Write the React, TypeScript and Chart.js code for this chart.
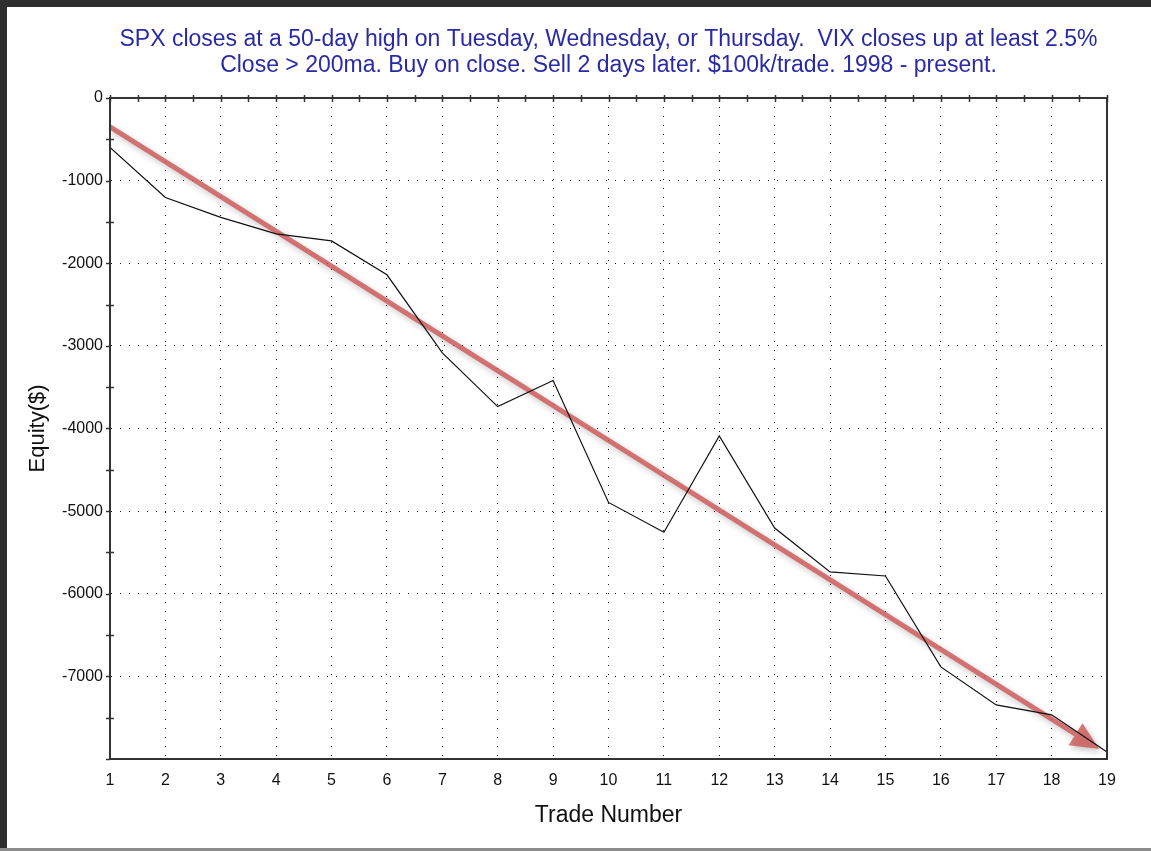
import React, { useEffect, useRef } from 'react';
import { Chart, registerables } from 'chart.js';

Chart.register(...registerables);

const titleLines = [
  'SPX closes at a 50-day high on Tuesday, Wednesday, or Thursday.  VIX closes up at least 2.5%',
  'Close > 200ma. Buy on close. Sell 2 days later. $100k/trade. 1998 - present.',
];
const xAxisTitle = 'Trade Number';
const yAxisTitle = 'Equity($)';

const tradeNumbers = [1, 2, 3, 4, 5, 6, 7, 8, 9, 10, 11, 12, 13, 14, 15, 16, 17, 18, 19];
const equity = [
  -600, -1205, -1445, -1645, -1730, -2140, -3085, -3735, -3420, -4895,
  -5255, -4090, -5205, -5735, -5785, -6885, -7345, -7465, -7915,
];

const yMin = -8000;
const yMax = 0;
const yStep = 1000;
const yMinorStep = 500;
const xMin = 1;
const xMax = 19;
const xMinorStep = 0.5;
const hiddenYLabels = [-8000];

// red trend arrow (data coordinates)
const trendStart = { x: 1, y: -350 };
const trendEnd = { x: 18.86, y: -7880 };

const FONT = "'Liberation Sans', Arial, sans-serif";

const framePlugin = {
  id: 'framePlugin',
  beforeDraw(chart: any) {
    const { ctx, width, height } = chart;
    ctx.save();
    ctx.fillStyle = '#ffffff';
    ctx.fillRect(0, 0, width, height);
    ctx.fillStyle = '#2e2e2e';
    ctx.fillRect(0, 0, width, 7);
    ctx.fillRect(0, 0, 7, height);
    ctx.fillStyle = '#8c8c8c';
    ctx.fillRect(0, height - 3, width, 3);
    ctx.restore();
  },
  beforeDatasetsDraw(chart: any) {
    const { ctx } = chart;
    const xs = chart.scales.x;
    const ys = chart.scales.y;
    const x1 = xs.getPixelForValue(trendStart.x);
    const y1 = ys.getPixelForValue(trendStart.y);
    const x2 = xs.getPixelForValue(trendEnd.x);
    const y2 = ys.getPixelForValue(trendEnd.y);
    const ang = Math.atan2(y2 - y1, x2 - x1);
    const headLen = 28;
    const headHalf = 13;
    const bx = x2 - headLen * Math.cos(ang);
    const by = y2 - headLen * Math.sin(ang);
    ctx.save();
    ctx.shadowColor = 'rgba(0,0,0,0.28)';
    ctx.shadowBlur = 6;
    ctx.shadowOffsetX = 2;
    ctx.shadowOffsetY = 3;
    ctx.strokeStyle = 'rgba(206,88,88,0.82)';
    ctx.fillStyle = 'rgba(206,88,88,0.82)';
    ctx.lineWidth = 5;
    ctx.lineCap = 'butt';
    ctx.beginPath();
    ctx.moveTo(x1, y1);
    ctx.lineTo(bx, by);
    ctx.stroke();
    ctx.beginPath();
    ctx.moveTo(x2, y2);
    ctx.lineTo(bx + headHalf * Math.sin(ang), by - headHalf * Math.cos(ang));
    ctx.lineTo(bx - headHalf * Math.sin(ang), by + headHalf * Math.cos(ang));
    ctx.closePath();
    ctx.fill();
    ctx.restore();
  },
  afterDraw(chart: any) {
    const { ctx, chartArea } = chart;
    const xs = chart.scales.x;
    const ys = chart.scales.y;
    const { left, right, top, bottom } = chartArea;
    ctx.save();
    ctx.strokeStyle = '#333333';
    ctx.lineWidth = 2;
    ctx.strokeRect(left, top, right - left, bottom - top);
    ctx.lineWidth = 1.5;
    // left axis ticks
    for (let v = yMin; v <= yMax; v += yMinorStep) {
      const py = Math.round(ys.getPixelForValue(v)) + 0.5;
      const major = v % yStep === 0;
      ctx.beginPath();
      ctx.moveTo(left - 4, py);
      ctx.lineTo(major ? left : left + 4, py);
      ctx.stroke();
    }
    // top axis ticks
    for (let v = xMin; v <= xMax; v += xMinorStep) {
      const px = Math.round(xs.getPixelForValue(v)) + 0.5;
      ctx.beginPath();
      ctx.moveTo(px, top - 3);
      ctx.lineTo(px, top + 4);
      ctx.stroke();
    }
    ctx.restore();
  },
};

export default function App() {
  const ref = useRef<HTMLCanvasElement | null>(null);

  useEffect(() => {
    document.body.style.margin = '0';
    const canvas = ref.current;
    if (!canvas) return;
    const chart = new Chart(canvas, {
      type: 'line',
      data: {
        labels: tradeNumbers,
        datasets: [
          {
            data: tradeNumbers.map((t, i) => ({ x: t, y: equity[i] })),
            borderColor: '#111111',
            borderWidth: 1.2,
            pointRadius: 0,
            tension: 0,
            fill: false,
          },
        ],
      },
      options: {
        animation: false,
        responsive: false,
        maintainAspectRatio: false,
        layout: { padding: { left: 0, right: 44, top: 0, bottom: 0 } },
        plugins: {
          legend: { display: false },
          tooltip: { enabled: false },
          title: {
            display: true,
            text: titleLines,
            color: '#2a2aa6',
            fullSize: false,
            font: { family: FONT, size: 23, weight: 'normal', lineHeight: 1.13 },
            padding: { top: 27, bottom: 19 },
          },
        },
        scales: {
          x: {
            type: 'linear',
            min: xMin,
            max: xMax,
            afterFit: (s: any) => {
              s.height = 92;
            },
            ticks: {
              stepSize: 1,
              color: '#111111',
              padding: 12,
              maxRotation: 0,
              font: { family: FONT, size: 16 },
            },
            grid: { color: '#111111', lineWidth: 1, drawTicks: false },
            border: { display: true, color: '#333333', width: 2, dash: [1, 8] },
            title: {
              display: true,
              text: xAxisTitle,
              color: '#111111',
              font: { family: FONT, size: 23 },
              padding: { top: 0, bottom: 22 },
            },
          },
          y: {
            type: 'linear',
            min: yMin,
            max: yMax,
            afterFit: (s: any) => {
              s.width = 110;
            },
            ticks: {
              stepSize: yStep,
              color: '#111111',
              padding: 7,
              font: { family: FONT, size: 16 },
              callback: (v: any) => (hiddenYLabels.includes(Number(v)) ? '' : String(v)),
            },
            grid: { color: '#111111', lineWidth: 1, drawTicks: false },
            border: { display: true, color: '#333333', width: 2, dash: [1, 8] },
            title: {
              display: true,
              text: yAxisTitle,
              color: '#111111',
              font: { family: FONT, size: 22 },
              padding: { top: 25, bottom: 0 },
            },
          },
        },
      },
      plugins: [framePlugin],
    });
    return () => chart.destroy();
  }, []);

  return (
    <div style={{ width: 1151, height: 851, position: 'relative' }}>
      <canvas ref={ref} width={1151} height={851} style={{ display: 'block' }} />
    </div>
  );
}
